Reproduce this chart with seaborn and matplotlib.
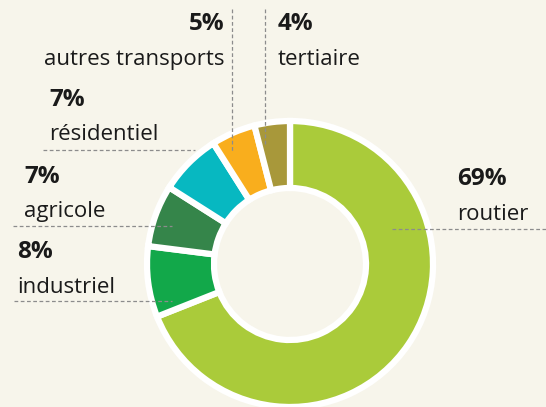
import matplotlib
matplotlib.use("Agg")
import matplotlib.pyplot as plt
import seaborn as sns

# Data
sectors = ['routier', 'industriel', 'agricole', 'résidentiel', 'autres transports', 'tertiaire']
shares = [69, 8, 7, 7, 5, 4]
colors = ['#AACB3A', '#12A84A', '#35854A', '#07B8C1', '#F9AE1D', '#A8983A']

sns.set_style('white')
plt.rcParams['font.family'] = ['Open Sans', 'DejaVu Sans']

W, H = 546, 407
bg = '#F7F5EB'
fig = plt.figure(figsize=(W / 100, H / 100), dpi=100, facecolor=bg)
ax = fig.add_axes([0, 0, 1, 1])
ax.set_facecolor(bg)

# donut, clockwise from the top
ax.pie(shares, colors=sns.color_palette(colors), startangle=90, counterclock=False,
       center=(290, H - 264), radius=143, frame=True,
       wedgeprops=dict(width=67, edgecolor='white', linewidth=4.5))
ax.set_xlim(0, W)
ax.set_ylim(0, H)
ax.axis('off')

# label layout: (x, baseline of pct, baseline of name, ha)  -- pixel coords from top
layout = {
    'routier': (457, 185, 220, 'left'),
    'industriel': (17, 258, 293, 'left'),
    'agricole': (24, 183, 217, 'left'),
    'résidentiel': (49, 106, 140, 'left'),
    'autres transports': (225, 30, 65, 'right'),
    'tertiaire': (278, 30, 65, 'left'),
}
txt = '#1A1A1A'
for name, val in zip(sectors, shares):
    x, yp, yn, ha = layout[name]
    ax.text(x, H - yp, f'{val}%', ha=ha, va='baseline', fontsize=17.5,
            fontweight='bold', color=txt)
    ax.text(x, H - yn, name, ha=ha, va='baseline', fontsize=16, color=txt)

# leader lines
dash = dict(color='#8C8C8C', linewidth=0.9, linestyle=(0, (3, 2)))
ax.plot([392, 546], [H - 229, H - 229], **dash)
ax.plot([14, 172], [H - 301, H - 301], **dash)
ax.plot([13, 172], [H - 226, H - 226], **dash)
ax.plot([43, 195], [H - 150, H - 150], **dash)
ax.plot([232, 232], [H - 9, H - 152], **dash)
ax.plot([265, 265], [H - 9, H - 145], **dash)

fig.savefig('out.png', dpi=100, facecolor=bg)
